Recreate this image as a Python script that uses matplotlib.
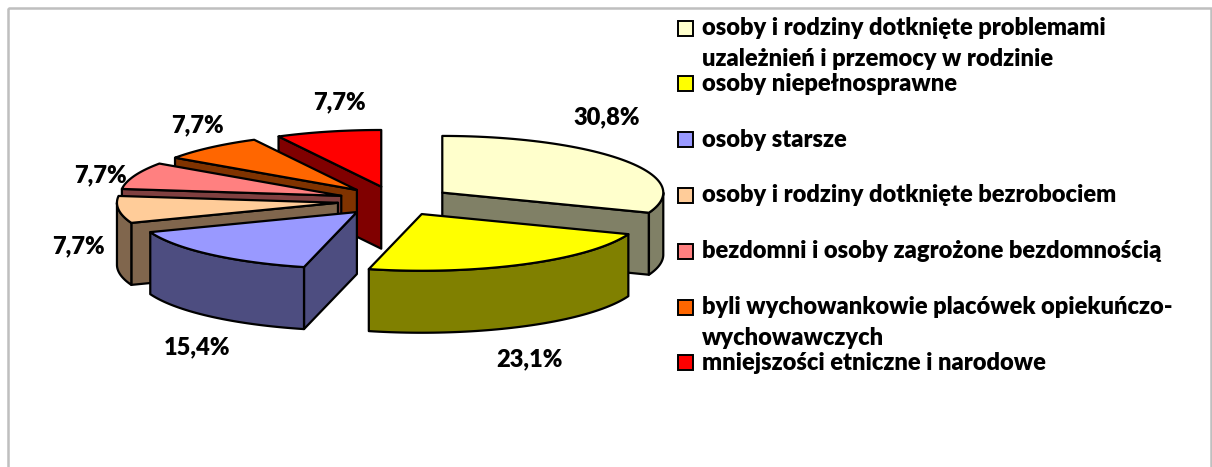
import numpy as np
import matplotlib.pyplot as plt
from matplotlib.patches import Polygon, Rectangle
from matplotlib.colors import to_rgb

# data
categories = [
    'osoby i rodziny dotknięte problemami\nuzależnień i przemocy w rodzinie',
    'osoby niepełnosprawne',
    'osoby starsze',
    'osoby i rodziny dotknięte bezrobociem',
    'bezdomni i osoby zagrożone bezdomnością',
    'byli wychowankowie placówek opiekuńczo-\nwychowawczych',
    'mniejszości etniczne i narodowe',
]
values = [4, 3, 2, 1, 1, 1, 1]
colors = ['#FFFFCC', '#FFFF00', '#9999FF', '#FFCC99', '#FF8080', '#FF6600', '#FF0000']

# layout (pixels)
W, H = 1212, 467
cx, cy = 395, 201
rx, ry = 221, 56.7
depth = 62
explode = 0.26
label_pos = [(607, 117), (529, 359), (197, 347), (78, 246), (100, 175), (197, 125), (339, 102)]

font = ['Lato', 'DejaVu Sans']
plt.rcParams['font.family'] = font
weight = 'heavy'
fsize = 17

fig = plt.figure(figsize=(W / 100, H / 100), dpi=100)
ax = fig.add_axes([0, 0, 1, 1])
ax.set_xlim(0, W)
ax.set_ylim(H, 0)
ax.axis('off')

# chart border
ax.add_patch(Rectangle((8, 8), 1203, 480, fill=False, ec='#BFBFBF', lw=1.8))

vals = np.array(values, dtype=float)
fracs = vals / vals.sum()
ends = 90 - np.cumsum(fracs) * 360
starts = ends + fracs * 360


def rim(ox, oy, t, z=0.0):
    r = np.radians(t)
    return ox + rx * np.cos(r), oy - ry * np.sin(r) + z


def arc(ox, oy, ta, tb, z=0.0, n=60):
    ts = np.linspace(ta, tb, n)
    return [rim(ox, oy, t, z) for t in ts]


lw = 1.6
slices = []
for i in range(len(values)):
    t0, t1 = starts[i], ends[i]
    mid = (t0 + t1) / 2
    m = np.radians(mid)
    ox = cx + explode * rx * np.cos(m)
    oy = cy - explode * ry * np.sin(m)
    slices.append((np.sin(m), i, t0, t1, ox, oy))

# paint from back to front
for s, i, t0, t1, ox, oy in sorted(slices, key=lambda q: -q[0]):
    top_c = colors[i]
    side_c = tuple(0.5 * c for c in to_rgb(top_c))
    # radial cut walls facing the viewer
    for t, sign in ((t0, 1), (t1, -1)):
        if sign * np.cos(np.radians(t)) < -1e-6:
            p1 = rim(ox, oy, t)
            p2 = rim(ox, oy, t, depth)
            wall = [(ox, oy), p1, p2, (ox, oy + depth)]
            ax.add_patch(Polygon(wall, closed=True, fc=side_c, ec='black', lw=lw, joinstyle='round'))
    # outer wall, front half only
    for k in (-1, 0, 1):
        lo = max(t1, -180 + 360 * k)
        hi = min(t0, 360 * k)
        if hi > lo:
            up = arc(ox, oy, hi, lo)
            down = arc(ox, oy, lo, hi, depth)
            ax.add_patch(Polygon(up + down, closed=True, fc=side_c, ec='black', lw=lw, joinstyle='round'))
    # top face
    top = [(ox, oy)] + arc(ox, oy, t0, t1)
    ax.add_patch(Polygon(top, closed=True, fc=top_c, ec='black', lw=lw, joinstyle='round'))

# percentage labels
for i, (x, y) in enumerate(label_pos):
    txt = f'{fracs[i] * 100:.1f}%'.replace('.', ',')
    ax.text(x, y, txt, ha='center', va='center', fontsize=fsize, fontweight=weight, family=font)

# legend
leg_x, leg_y, leg_step, line_step = 678, 28, 55.8, 31
for i, (name, c) in enumerate(zip(categories, colors)):
    y = leg_y + i * leg_step
    ax.add_patch(Rectangle((leg_x, y - 7.5), 15, 15, fc=c, ec='black', lw=1.4))
    for j, line in enumerate(name.split('\n')):
        ax.text(leg_x + 24, y + j * line_step, line, ha='left', va='center',
                fontsize=fsize, fontweight=weight, family=font)

fig.savefig('out.png', dpi=100)
